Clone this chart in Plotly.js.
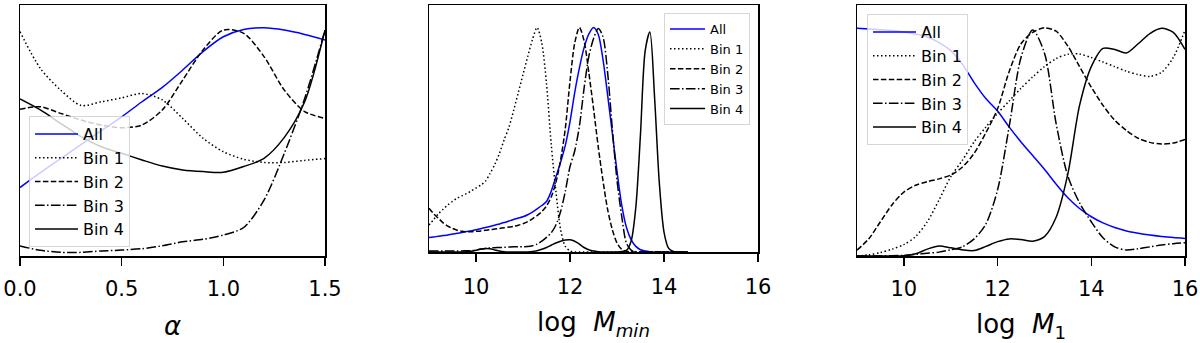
<!DOCTYPE html>
<html>
<head>
<meta charset="utf-8">
<script src="https://cdn.plot.ly/plotly-3.0.1.min.js"></script>
<style>body{margin:0;background:#fff}</style>
</head>
<body>
<div id="chart" style="width:1200px;height:343px"></div>
<script>
// series names shared by all three panels
const labels = ["All", "Bin 1", "Bin 2", "Bin 3", "Bin 4"];

// Panel 1: alpha
const alphaGrid = [0.0, 0.1, 0.2, 0.3, 0.4, 0.5, 0.6, 0.7, 0.8, 0.9, 1.0, 1.1, 1.2, 1.3, 1.4, 1.5];
const allAlpha  = [0.300, 0.365, 0.427, 0.488, 0.549, 0.610, 0.676, 0.739, 0.815, 0.896, 0.961, 0.993, 1.000, 0.990, 0.971, 0.947];
const bin1Alpha = [0.983, 0.822, 0.727, 0.660, 0.676, 0.693, 0.712, 0.684, 0.603, 0.516, 0.457, 0.424, 0.410, 0.410, 0.419, 0.427];
const bin2Alpha = [0.643, 0.654, 0.625, 0.596, 0.574, 0.562, 0.574, 0.640, 0.771, 0.903, 0.990, 0.976, 0.874, 0.727, 0.633, 0.603];
const bin3Alpha = [0.044, 0.025, 0.016, 0.016, 0.022, 0.026, 0.032, 0.045, 0.062, 0.073, 0.092, 0.125, 0.245, 0.450, 0.690, 0.990];
const bin4Alpha = [0.688, 0.640, 0.581, 0.523, 0.479, 0.450, 0.421, 0.394, 0.377, 0.370, 0.367, 0.392, 0.428, 0.520, 0.676, 0.990];

// Panel 2: log M_min
const mminGrid = [
  9.0, 9.1, 9.2, 9.3, 9.4, 9.5, 9.6, 9.7, 9.8, 9.9,
  10.0, 10.1, 10.2, 10.3, 10.4, 10.5, 10.6, 10.7, 10.8, 10.9,
  11.0, 11.1, 11.2, 11.3, 11.4, 11.5, 11.6, 11.7, 11.8, 11.9,
  12.0, 12.1, 12.2, 12.3, 12.4, 12.5, 12.6, 12.7, 12.8, 12.9,
  13.0, 13.1, 13.2, 13.3, 13.4, 13.5, 13.6, 13.7, 13.8, 13.9,
  14.0, 14.1, 14.2, 14.3, 14.4, 14.5,
];
const allMmin = [
  0.064, 0.067, 0.070, 0.073, 0.076, 0.080, 0.083, 0.087, 0.091, 0.095,
  0.099, 0.104, 0.109, 0.114, 0.119, 0.125, 0.131, 0.138, 0.145, 0.151,
  0.157, 0.166, 0.178, 0.192, 0.207, 0.225, 0.270, 0.335, 0.400, 0.475,
  0.580, 0.710, 0.820, 0.910, 0.970, 1.000, 0.970, 0.860, 0.700, 0.530,
  0.360, 0.210, 0.110, 0.055, 0.025, 0.010, 0.004, 0.001, 0, 0,
  0, 0, 0, 0, 0, 0,
];
const bin1Mmin = [
  0.120, 0.145, 0.170, 0.190, 0.210, 0.225, 0.240, 0.250, 0.260, 0.272,
  0.285, 0.298, 0.315, 0.350, 0.390, 0.440, 0.500, 0.555, 0.630, 0.710,
  0.790, 0.870, 0.945, 1.000, 0.930, 0.750, 0.480, 0.270, 0.100, 0.025,
  0.005, 0, 0, 0, 0, 0, 0, 0, 0, 0,
  0, 0, 0, 0, 0, 0, 0, 0, 0, 0,
  0, 0, 0, 0, 0, 0,
];
const bin2Mmin = [
  0.195, 0.170, 0.150, 0.130, 0.115, 0.105, 0.097, 0.092, 0.090, 0.090,
  0.092, 0.094, 0.097, 0.099, 0.102, 0.105, 0.108, 0.111, 0.114, 0.119,
  0.126, 0.135, 0.148, 0.162, 0.180, 0.205, 0.245, 0.310, 0.410, 0.550,
  0.760, 0.930, 1.000, 0.940, 0.800, 0.640, 0.470, 0.320, 0.190, 0.100,
  0.040, 0.012, 0.003, 0, 0, 0, 0, 0, 0, 0,
  0, 0, 0, 0, 0, 0,
];
const bin3Mmin = [
  0.005, 0.005, 0.005, 0.005, 0.005, 0.005, 0.005, 0.005, 0.006, 0.006,
  0.008, 0.012, 0.016, 0.018, 0.019, 0.020, 0.021, 0.022, 0.023, 0.023,
  0.023, 0.024, 0.028, 0.035, 0.048, 0.065, 0.085, 0.120, 0.180, 0.270,
  0.380, 0.450, 0.560, 0.730, 0.870, 0.950, 0.995, 0.960, 0.800, 0.550,
  0.320, 0.160, 0.040, 0.008, 0, 0, 0, 0, 0, 0,
  0, 0, 0, 0, 0, 0,
];
const bin4Mmin = [
  0, 0, 0, 0, 0, 0, 0, 0, 0.001, 0.003,
  0.008, 0.013, 0.016, 0.014, 0.009, 0.004, 0.001, 0, 0, 0,
  0, 0, 0.002, 0.006, 0.012, 0.020, 0.030, 0.040, 0.048, 0.053,
  0.054, 0.048, 0.035, 0.020, 0.010, 0.004, 0.001, 0, 0, 0,
  0, 0.002, 0.007, 0.048, 0.198, 0.526, 0.897, 0.980, 0.687, 0.309,
  0.089, 0.016, 0.002, 0, 0, 0,
];

// Panel 3: log M_1
const m1Grid = [
  9.0, 9.25, 9.5, 9.75, 10.0, 10.25, 10.5, 10.75, 11.0, 11.25,
  11.5, 11.75, 12.0, 12.25, 12.5, 12.75, 13.0, 13.25, 13.5, 13.75,
  14.0, 14.25, 14.5, 14.75, 15.0, 15.25, 15.5, 15.75, 16.0,
];
const allM1 = [
  0.998, 0.995, 0.992, 0.988, 0.982, 0.973, 0.960, 0.935, 0.900, 0.840,
  0.760, 0.690, 0.635, 0.565, 0.500, 0.440, 0.380, 0.315, 0.255, 0.208,
  0.172, 0.145, 0.125, 0.110, 0.100, 0.092, 0.086, 0.081, 0.077,
];
const bin1M1 = [
  0.000, 0.005, 0.015, 0.030, 0.050, 0.085, 0.150, 0.245, 0.347, 0.420,
  0.500, 0.565, 0.625, 0.680, 0.735, 0.785, 0.830, 0.865, 0.884, 0.885,
  0.870, 0.850, 0.830, 0.810, 0.795, 0.787, 0.805, 0.870, 0.990,
];
const bin2M1 = [
  0.026, 0.075, 0.150, 0.225, 0.280, 0.310, 0.326, 0.338, 0.355, 0.390,
  0.450, 0.540, 0.645, 0.810, 0.930, 0.980, 1.000, 0.985, 0.920, 0.830,
  0.740, 0.660, 0.595, 0.550, 0.516, 0.498, 0.491, 0.495, 0.511,
];
const bin3M1 = [
  0.000, 0.000, 0.000, 0.001, 0.003, 0.007, 0.012, 0.017, 0.027, 0.040,
  0.075, 0.140, 0.290, 0.570, 0.870, 0.990, 0.890, 0.580, 0.350, 0.233,
  0.150, 0.080, 0.040, 0.026, 0.032, 0.040, 0.048, 0.054, 0.058,
];
const bin4M1 = [
  0.000, 0.000, 0.000, 0.000, 0.001, 0.010, 0.030, 0.044, 0.036, 0.027,
  0.024, 0.042, 0.063, 0.075, 0.072, 0.065, 0.085, 0.170, 0.360, 0.660,
  0.830, 0.910, 0.905, 0.890, 0.930, 0.975, 0.998, 0.980, 0.905,
];

// line styles (matplotlib look: b-, k:, k--, k-., k-)
const lineStyles = [
  { color: "#0000ff", dash: "solid" },
  { color: "#000000", dash: "1.5px,2.5px" },
  { color: "#000000", dash: "5.5px,2.4px" },
  { color: "#000000", dash: "9.6px,2.4px,1.5px,2.4px" },
  { color: "#000000", dash: "solid" },
];

function panelTraces(x, series, xa, ya, legend) {
  return series.map((y, i) => ({
    type: "scatter",
    mode: "lines",
    name: labels[i],
    x: x,
    y: y,
    xaxis: xa,
    yaxis: ya,
    legend: legend,
    hoverinfo: "skip",
    line: {
      color: lineStyles[i].color,
      dash: lineStyles[i].dash,
      width: 1.5,
      shape: "spline",
      smoothing: 0.8,
    },
  }));
}

const traces = [
  ...panelTraces(alphaGrid, [allAlpha, bin1Alpha, bin2Alpha, bin3Alpha, bin4Alpha], "x", "y", "legend"),
  ...panelTraces(mminGrid, [allMmin, bin1Mmin, bin2Mmin, bin3Mmin, bin4Mmin], "x2", "y2", "legend2"),
  ...panelTraces(m1Grid, [allM1, bin1M1, bin2M1, bin3M1, bin4M1], "x3", "y3", "legend3"),
];

const W = 1200, H = 343;
const xAxisBase = {
  showline: true,
  mirror: true,
  linecolor: "#000",
  linewidth: 1.5,
  ticks: "outside",
  ticklen: 8,
  tickwidth: 1.5,
  tickcolor: "#000",
  ticklabelstandoff: 5,
  showgrid: false,
  zeroline: false,
  tickfont: { size: 21, color: "#000" },
};
const yAxisBase = {
  showline: true,
  mirror: true,
  linecolor: "#000",
  linewidth: 1.5,
  ticks: "",
  showticklabels: false,
  showgrid: false,
  zeroline: false,
  range: [0, 1.1],
};
const legendBase = {
  bgcolor: "rgba(255,255,255,0.8)",
  bordercolor: "rgba(204,204,204,0.8)",
  borderwidth: 1,
  font: { size: 16, color: "#000" },
  itemwidth: 43,
  tracegroupgap: 0,
};

const layout = {
  width: W,
  height: H,
  margin: { t: 0, r: 0, b: 0, l: 0 },
  paper_bgcolor: "#fff",
  plot_bgcolor: "#fff",
  font: { family: "DejaVu Sans", color: "#000" },
  showlegend: true,
  xaxis: {
    ...xAxisBase,
    domain: [20 / W, 325 / W],
    range: [0, 1.5],
    tickvals: [0, 0.5, 1.0, 1.5],
    tickformat: ".1f",
    anchor: "y",
    title: { text: "<i>α</i>", font: { size: 26 }, standoff: 17 },
  },
  yaxis: { ...yAxisBase, domain: [1 - 256 / H, 1 - 5 / H], anchor: "x" },
  xaxis2: {
    ...xAxisBase,
    domain: [429 / W, 758 / W],
    range: [9, 16],
    tickvals: [10, 12, 14, 16],
    ticklabelstandoff: 7,
    anchor: "y2",
    title: { text: "log\u00a0 <i>M</i><sub><i>min</i></sub>", font: { size: 26 }, standoff: 15 },
  },
  yaxis2: { ...yAxisBase, domain: [1 - 252 / H, 1 - 5 / H], anchor: "x2" },
  xaxis3: {
    ...xAxisBase,
    domain: [857 / W, 1185 / W],
    range: [9, 16],
    tickvals: [10, 12, 14, 16],
    anchor: "y3",
    title: { text: "log\u00a0 <i>M</i><sub>1</sub>", font: { size: 26 }, standoff: 15 },
  },
  yaxis3: { ...yAxisBase, domain: [1 - 256 / H, 1 - 5 / H], anchor: "x3" },
  legend: { ...legendBase, x: 29 / W, xanchor: "left", y: 1 - 247 / H, yanchor: "bottom" },
  legend2: { ...legendBase, font: { size: 13, color: "#000" }, itemwidth: 35, x: 750 / W, xanchor: "right", y: 1 - 13 / H, yanchor: "top" },
  legend3: { ...legendBase, x: 867 / W, xanchor: "left", y: 1 - 14 / H, yanchor: "top" },
};

Plotly.newPlot("chart", traces, layout, { staticPlot: true, displayModeBar: false });
</script>
</body>
</html>
